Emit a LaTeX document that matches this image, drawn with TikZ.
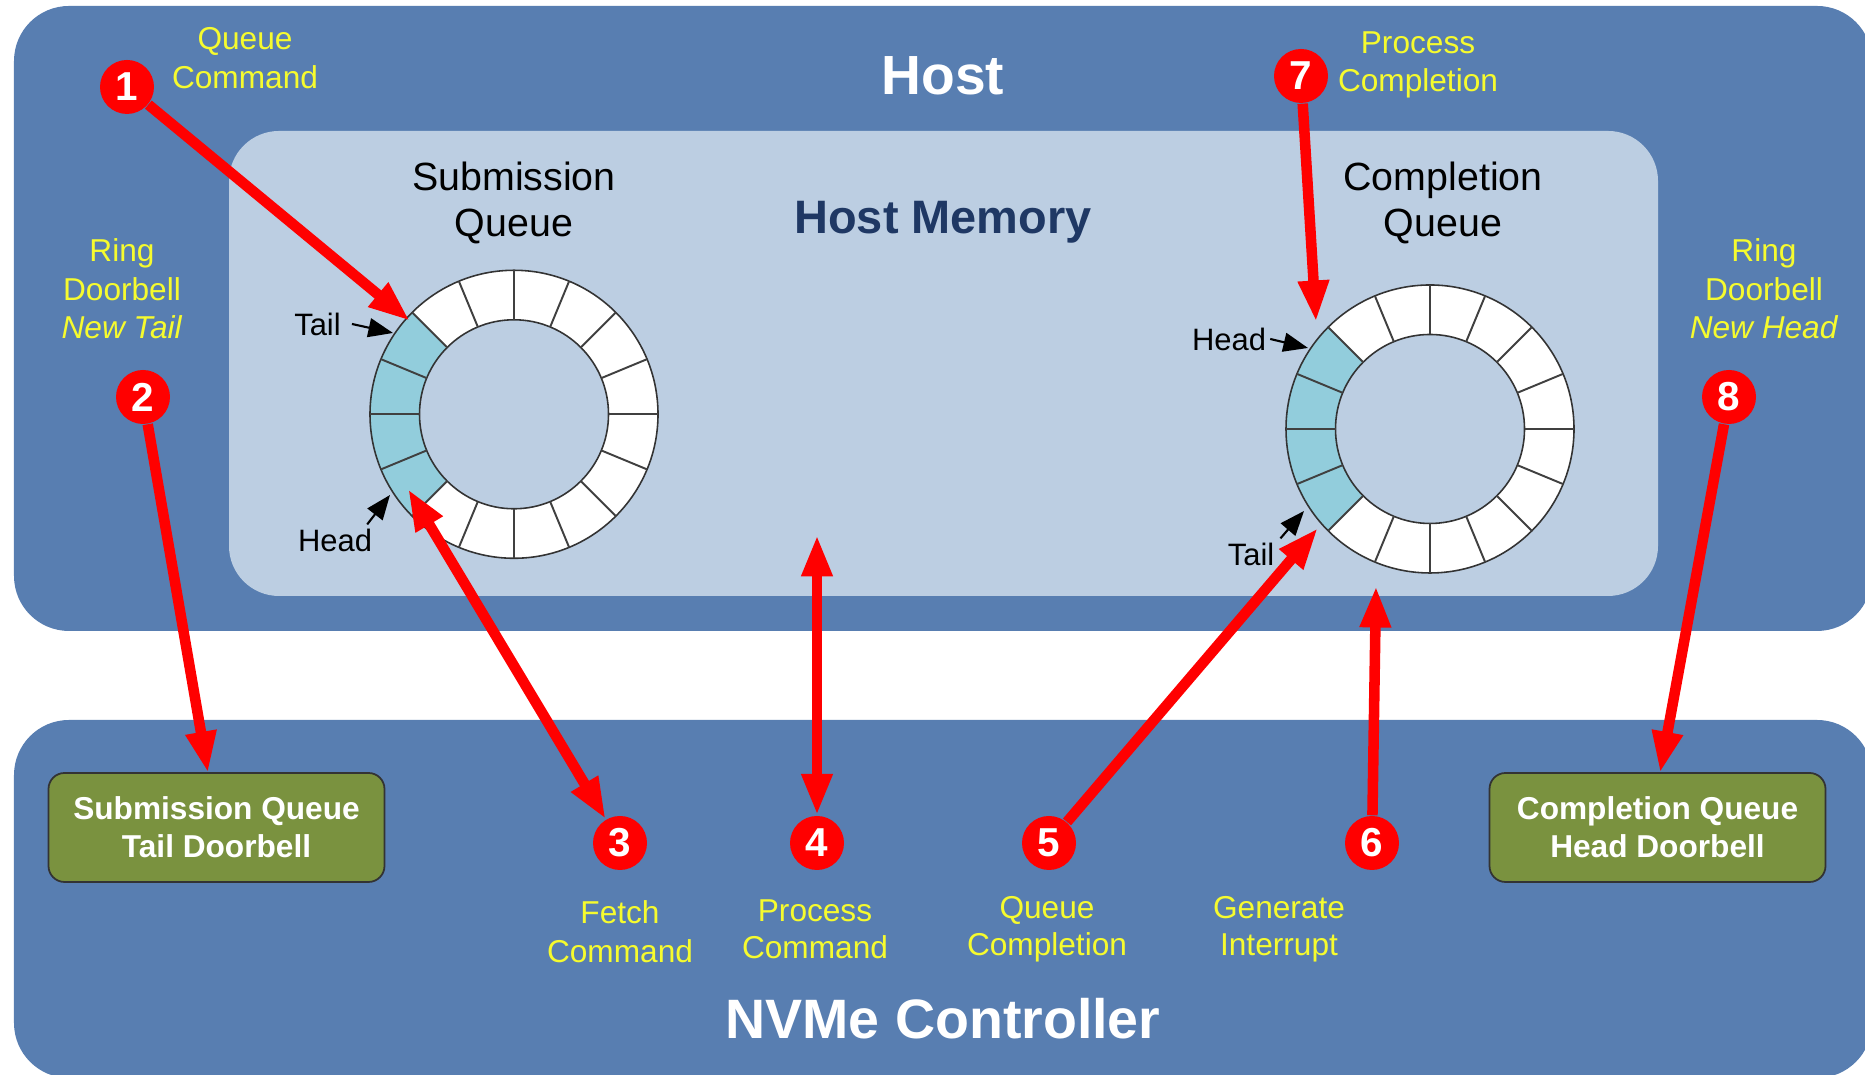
\documentclass[tikz,border=0pt]{standalone}
\usepackage{fontspec}
\setmainfont{Liberation Sans}
\usetikzlibrary{arrows.meta}
\definecolor{hostblue}{HTML}{587EB1}
\definecolor{memblue}{HTML}{BCCEE2}
\definecolor{slotteal}{HTML}{92CDDC}
\definecolor{bellgreen}{HTML}{7A923F}
\definecolor{stepyellow}{HTML}{F6FB2E}
\definecolor{memnavy}{HTML}{1F3864}
\tikzset{
    panel/.style={fill=hostblue, rounded corners=0.55cm, inner sep=0pt},
    badge/.style={circle, fill=red, text=white, inner sep=0pt, minimum size=0.54cm, font=\fontsize{11.5}{12}\bfseries\selectfont},
    bell/.style={draw=black!80, fill=bellgreen, rounded corners=0.16cm, line width=0.5pt, text=white, align=center, minimum width=3.36cm, minimum height=1.09cm, inner sep=0pt, font=\fontsize{9}{10.8}\bfseries\selectfont},
    steptext/.style={text=stepyellow, align=center, inner sep=0pt, font=\fontsize{9}{11}\selectfont},
    lowtext/.style={steptext, font=\fontsize{9}{10.6}\selectfont},
    titletext/.style={align=center, inner sep=0pt, font=\fontsize{11.2}{13.3}\selectfont},
    ptrtext/.style={inner sep=1pt, font=\fontsize{8.8}{10}\selectfont},
    redarrow/.style={draw=red, line width=3pt, -{Triangle[length=11.8pt,width=8.2pt]}},
    redboth/.style={draw=red, line width=3pt, {Triangle[length=11.8pt,width=8.2pt]}-{Triangle[length=11.8pt,width=8.2pt]}},
    ptrarrow/.style={draw=black, line width=0.6pt, -{Triangle[length=7pt,width=5.4pt]}}
}
\begin{document}
\begin{tikzpicture}
    \clip (0, 0) rectangle (18.65, 10.75);

    % panels
    \node[panel, minimum width=18.58cm, minimum height=6.25cm] (host) at (9.43, 7.565) {};
    \node[panel, minimum width=18.58cm, minimum height=3.58cm] (ctrl) at (9.43, 1.76) {};
    \node[panel, fill=memblue, rounded corners=0.5cm, minimum width=14.29cm, minimum height=4.65cm] (mem) at (9.435, 7.115) {};

    % the two rings
    \foreach \ringx/\ringy in {5.14/6.607, 14.30/6.46} {
        \begin{scope}[shift={(\ringx, \ringy)}]
            \fill[white, even odd rule] (0, 0) circle (1.44) (0, 0) circle (0.945);
            \fill[slotteal] (135:1.44) arc (135:225:1.44) -- (225:0.945) arc (225:135:0.945) -- cycle;
            \draw[black!80, line width=0.45pt] (0, 0) circle (1.44) (0, 0) circle (0.945);
            \foreach \slot in {0, 22.5, ..., 337.5}
                \draw[black!75, line width=0.55pt] (\slot:0.945) -- (\slot:1.44);
        \end{scope}
    }

    % titles
    \node[text=white, inner sep=0pt, font=\fontsize{15.7}{18}\bfseries\selectfont] (hosttitle) at (9.43, 9.99) {Host};
    \node[text=memnavy, inner sep=0pt, font=\fontsize{13.35}{16}\bfseries\selectfont] (memtitle) at (9.43, 8.53) {Host Memory};
    \node[text=white, inner sep=0pt, font=\fontsize{15.8}{18}\bfseries\selectfont] (ctrltitle) at (9.43, 0.56) {NVMe Controller};
    \node[titletext] (sqtitle) at (5.14, 8.72) {Submission\\Queue};
    \node[titletext] (cqtitle) at (14.43, 8.72) {Completion\\Queue};

    % doorbell registers
    \node[bell] (sqbell) at (2.165, 2.475) {Submission Queue\\Tail Doorbell};
    \node[bell] (cqbell) at (16.575, 2.475) {Completion Queue\\Head Doorbell};

    % step captions
    \node[steptext] (queuecmd) at (2.45, 10.17) {Queue\\Command};
    \node[steptext] (ringsq) at (1.22, 7.86) {Ring\\Doorbell\\\textit{New Tail}};
    \node[steptext] (fetchcmd) at (6.20, 1.43) {Fetch\\Command};
    \node[lowtext] (proccmd) at (8.15, 1.46) {Process\\Command};
    \node[lowtext] (queuecpl) at (10.47, 1.46) {Queue\\Completion};
    \node[lowtext] (geninterrupt) at (12.79, 1.46) {Generate\\Interrupt};
    \node[steptext] (proccpl) at (14.18, 10.10) {Process\\Completion};
    \node[steptext] (ringcq) at (17.64, 7.86) {Ring\\Doorbell\\\textit{New Head}};

    % step badges
    \node[badge] (one) at (1.27, 9.88) {1};
    \node[badge] (two) at (1.43, 6.78) {2};
    \node[badge] (three) at (6.20, 2.32) {3};
    \node[badge] (four) at (8.17, 2.32) {4};
    \node[badge] (five) at (10.49, 2.32) {5};
    \node[badge] (six) at (13.72, 2.32) {6};
    \node[badge] (seven) at (13.01, 9.99) {7};
    \node[badge] (eight) at (17.29, 6.78) {8};

    % free ends of the red arrows
    \coordinate (sqslot) at (4.10, 7.54);
    \coordinate (sqbelltop) at (2.08, 3.02);
    \coordinate (sqfetch) at (4.08, 5.86);
    \coordinate (memedge) at (8.17, 5.40);
    \coordinate (cqslot) at (13.18, 5.47);
    \coordinate (memlow) at (13.76, 4.89);
    \coordinate (cqhead) at (13.16, 7.53);
    \coordinate (cqbelltop) at (16.60, 3.02);

    \draw[redarrow] (one) -- (sqslot);
    \draw[redarrow] (two) -- (sqbelltop);
    \draw[redboth] (three) -- (sqfetch);
    \draw[redboth] (four) -- (memedge);
    \draw[redarrow] (five) -- (cqslot);
    \draw[redarrow] (six) -- (memlow);
    \draw[redarrow] (seven) -- (cqhead);
    \draw[redarrow] (eight) -- (cqbelltop);

    % head and tail pointers
    \node[ptrtext] (sqtail) at (3.175, 7.51) {Tail};
    \node[ptrtext] (sqhead) at (3.35, 5.35) {Head};
    \node[ptrtext] (cqheadtext) at (12.29, 7.36) {Head};
    \node[ptrtext] (cqtail) at (12.51, 5.21) {Tail};
    \coordinate (sqtailtip) at (3.93, 7.42);
    \coordinate (sqheadtip) at (3.90, 5.80);
    \coordinate (cqheadtip) at (13.08, 7.27);
    \coordinate (cqtailtip) at (13.04, 5.64);

    \draw[ptrarrow] ([xshift=0.07cm]sqtail.east) -- (sqtailtip);
    \draw[ptrarrow] ([xshift=-0.09cm]sqhead.north east) -- (sqheadtip);
    \draw[ptrarrow] (cqheadtext.east) -- (cqheadtip);
    \draw[ptrarrow] ([xshift=0.02cm]cqtail.north east) -- (cqtailtip);
\end{tikzpicture}
\end{document}
